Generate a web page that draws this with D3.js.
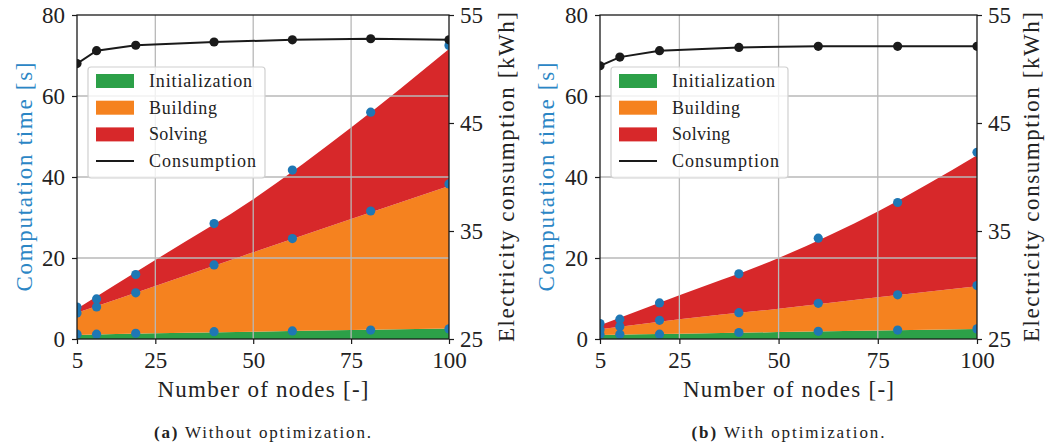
<!DOCTYPE html>
<html><head><meta charset="utf-8">
<script src="https://cdn.jsdelivr.net/npm/d3@7"></script>
<style>
body{margin:0;background:#fff}
svg{display:block}
</style>
</head><body>
<svg id="chart" width="1045" height="444"></svg>
<script>
// ---------- data ----------
const nodes = [5, 10, 20, 40, 60, 80, 100];
const fitNodes = [5, 25, 50, 75, 100];
const xTicks = [5, 25, 50, 75, 100];
const yTicks = [0, 20, 40, 60, 80];
const y2Ticks = [25, 35, 45, 55];
const legendLabels = ["Initialization", "Building", "Solving", "Consumption"];

// (a) Without optimization — measured points (cumulative seconds)
const initPtsA  = [1.2, 1.2, 1.4, 1.8, 2.0, 2.2, 2.5];
const buildPtsA = [6.4, 7.9, 11.4, 18.3, 24.8, 31.6, 38.3];
const solvePtsA = [7.9, 9.9, 15.9, 28.5, 41.7, 56.0, 72.5];
// (a) area edges (fitted curves at fitNodes, cumulative seconds)
const initFitA  = [1.0, 1.4, 1.8, 2.2, 2.6];
const buildFitA = [6.5, 13.1, 21.4, 29.6, 37.8];
const solveFitA = [7.5, 19.5, 34.5, 52.2, 71.6];
// (a) electricity consumption [kWh]
const consA = [50.5, 51.7, 52.2, 52.5, 52.7, 52.8, 52.7];

// (b) With optimization — measured points (cumulative seconds)
const initPtsB  = [1.1, 1.2, 1.2, 1.6, 1.9, 2.2, 2.5];
const buildPtsB = [2.3, 3.1, 4.6, 6.5, 8.8, 10.9, 13.2];
const solvePtsB = [3.8, 4.9, 8.9, 16.1, 24.9, 33.7, 46.1];
// (b) area edges (fitted curves at fitNodes)
const initFitB  = [1.0, 1.3, 1.7, 2.1, 2.5];
const buildFitB = [2.4, 4.9, 7.5, 10.3, 13.0];
const solveFitB = [3.4, 10.8, 20.0, 31.5, 45.4];
// (b) electricity consumption [kWh]
const consB = [50.3, 51.1, 51.7, 52.0, 52.1, 52.1, 52.1];

const captions = [["(a)", " Without optimization."], ["(b)", " With optimization."]];

// ---------- style ----------
const FONT = '"Liberation Serif"';
const SZ = {tick: 23, label: 23, legend: 18, cap: 17};
const C = {green:"#2ca048", orange:"#f5821f", red:"#d7282a", blue:"#1f77b4",
           grid:"#b8b8b8", ink:"#1a1a1a", label:"#2b86c5"};

const svg = d3.select("#chart");

function panel(idx, o, d) {
  const g = svg.append("g");
  const top = 15, bottom = 339;
  const x = d3.scaleLinear().domain([5, 100]).range([o.x0, o.x1]);
  const y = d3.scaleLinear().domain([0, 80]).range([bottom, top]);
  const y2 = d3.scaleLinear().domain([25, 55]).range([bottom, top]);

  const clipId = "clip" + idx;
  g.append("clipPath").attr("id", clipId).append("rect")
    .attr("x", o.x0).attr("y", top).attr("width", o.x1 - o.x0).attr("height", bottom - top);

  const plot = g.append("g").attr("clip-path", `url(#${clipId})`);
  const zeros = fitNodes.map(() => 0);
  const band = (lo, hi) => d3.area()
      .x((v, i) => x(fitNodes[i]))
      .y0((v, i) => y(lo[i]))
      .y1((v, i) => y(hi[i]))
      .curve(d3.curveMonotoneX)(fitNodes);
  plot.append("path").attr("d", band(zeros, d.initFit)).attr("fill", C.green);
  plot.append("path").attr("d", band(d.initFit, d.buildFit)).attr("fill", C.orange);
  plot.append("path").attr("d", band(d.buildFit, d.solveFit)).attr("fill", C.red);

  // grid
  plot.selectAll(".gx").data(xTicks.slice(1, -1)).join("line")
    .attr("x1", v => x(v)).attr("x2", v => x(v)).attr("y1", top).attr("y2", bottom)
    .attr("stroke", C.grid).attr("stroke-width", 1.3);
  plot.selectAll(".gy").data(yTicks.slice(1, -1)).join("line")
    .attr("x1", o.x0).attr("x2", o.x1).attr("y1", v => y(v)).attr("y2", v => y(v))
    .attr("stroke", C.grid).attr("stroke-width", 1.3);

  // measured markers
  [d.initPts, d.buildPts, d.solvePts].forEach(arr => {
    plot.append("g").selectAll("circle").data(arr).join("circle")
      .attr("cx", (v, i) => x(nodes[i])).attr("cy", v => y(v)).attr("r", 4.6)
      .attr("fill", C.blue);
  });

  // consumption line
  plot.append("path").datum(d.cons)
    .attr("d", d3.line().x((v, i) => x(nodes[i])).y(v => y2(v)))
    .attr("fill", "none").attr("stroke", C.ink).attr("stroke-width", 2);
  plot.append("g").selectAll("circle").data(d.cons).join("circle")
    .attr("cx", (v, i) => x(nodes[i])).attr("cy", v => y2(v)).attr("r", 4.6)
    .attr("fill", C.ink);

  // axes
  const styleAxis = (sel) => {
    sel.select(".domain").remove();
    sel.attr("font-family", FONT).attr("font-size", SZ.tick);
    sel.selectAll(".tick line").attr("stroke", C.ink).attr("stroke-width", 1.2);
    sel.selectAll(".tick text").attr("fill", "#222")
      .attr("font-family", FONT).attr("font-size", SZ.tick);
  };
  g.append("g").attr("transform", `translate(${o.x0},0)`)
    .call(d3.axisLeft(y).tickValues(yTicks).tickSize(5).tickPadding(7).tickSizeOuter(0))
    .call(styleAxis);
  g.append("g").attr("transform", `translate(${o.x1},0)`)
    .call(d3.axisRight(y2).tickValues(y2Ticks).tickSize(5).tickPadding(6).tickSizeOuter(0))
    .call(styleAxis);
  g.append("g").attr("transform", `translate(0,${bottom})`)
    .call(d3.axisBottom(x).tickValues(xTicks).tickSize(5).tickPadding(8).tickSizeOuter(0))
    .call(styleAxis);

  // spines
  g.append("rect").attr("x", o.x0).attr("y", top).attr("width", o.x1 - o.x0)
    .attr("height", bottom - top).attr("fill", "none").attr("stroke", C.ink).attr("stroke-width", 1.3);

  // axis labels
  const cx = (o.x0 + o.x1) / 2, cy = (top + bottom) / 2;
  g.append("text").attr("x", cx).attr("y", 397).attr("text-anchor", "middle")
    .attr("font-family", FONT).attr("font-size", SZ.label).attr("fill", "#222")
    .attr("textLength", 211).attr("lengthAdjust", "spacing")
    .text("Number of nodes [-]");
  g.append("text").attr("transform", `translate(${o.yl},${cy}) rotate(-90)`)
    .attr("text-anchor", "middle").attr("font-family", FONT).attr("font-size", SZ.label).attr("fill", C.label)
    .attr("textLength", 229).attr("lengthAdjust", "spacing")
    .text("Computation time [s]");
  g.append("text").attr("transform", `translate(${o.yr},${cy}) rotate(-90)`)
    .attr("text-anchor", "middle").attr("font-family", FONT).attr("font-size", SZ.label).attr("fill", "#222")
    .attr("textLength", 330).attr("lengthAdjust", "spacing")
    .text("Electricity consumption [kWh]");

  // legend
  const lx = o.x0 + 11, ly = 67;
  const lg = g.append("g");
  lg.append("rect").attr("x", lx).attr("y", ly).attr("width", 177).attr("height", 111)
    .attr("rx", 3).attr("fill", "#fff").attr("fill-opacity", 0.8)
    .attr("stroke", "#d0d0d0").attr("stroke-width", 1.2);
  const lw = [103, 68, 58, 107];
  const fills = [C.green, C.orange, C.red];
  legendLabels.forEach((lab, i) => {
    const yy = 81 + i * 26.7;
    if (i < 3) {
      lg.append("rect").attr("x", lx + 8).attr("y", yy - 7).attr("width", 38).attr("height", 14)
        .attr("fill", fills[i]);
    } else {
      lg.append("line").attr("x1", lx + 8).attr("x2", lx + 46).attr("y1", yy).attr("y2", yy)
        .attr("stroke", C.ink).attr("stroke-width", 2);
    }
    lg.append("text").attr("x", lx + 61).attr("y", yy + 6)
      .attr("font-family", FONT).attr("font-size", SZ.legend)
      .attr("fill", "#222").attr("textLength", lw[i]).attr("lengthAdjust", "spacing").text(lab);
  });

  // caption
  const cap = g.append("text").attr("x", o.capX).attr("y", 438).attr("text-anchor", "middle")
    .attr("font-family", FONT).attr("font-size", SZ.cap).attr("fill", "#222")
    .attr("textLength", o.capW).attr("lengthAdjust", "spacing");
  cap.append("tspan").attr("font-weight", "bold").text(captions[idx][0]);
  cap.append("tspan").text(captions[idx][1]);
}

panel(0, {x0: 77, x1: 449, yl: 32, yr: 514, capX: 262.5, capW: 217},
  {initPts: initPtsA, buildPts: buildPtsA, solvePts: solvePtsA,
   initFit: initFitA, buildFit: buildFitA, solveFit: solveFitA, cons: consA});
panel(1, {x0: 600, x1: 977, yl: 554, yr: 1039, capX: 788, capW: 193},
  {initPts: initPtsB, buildPts: buildPtsB, solvePts: solvePtsB,
   initFit: initFitB, buildFit: buildFitB, solveFit: solveFitB, cons: consB});
</script>
</body></html>
